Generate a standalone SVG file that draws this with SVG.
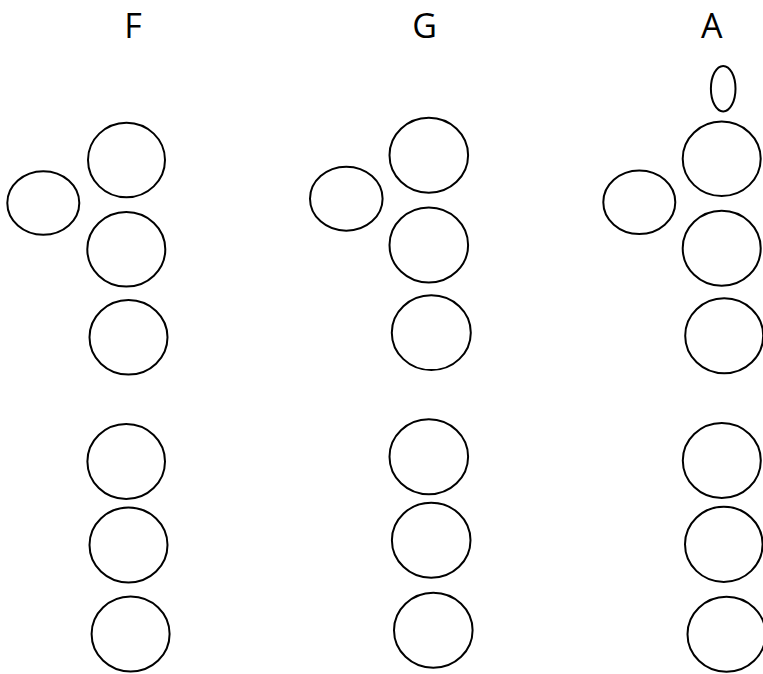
<svg xmlns="http://www.w3.org/2000/svg" width="763" height="674" viewBox="0 0 763 674">
<style>
.h{fill:none;stroke:#000;stroke-width:2}
.t{font-family:"Open Sans","Liberation Sans",sans-serif;font-size:34px;fill:#000;text-anchor:middle}
</style>
<rect width="763" height="674" fill="#fff"/>
<g id="col-F">
<text class="t" x="133" y="38">F</text>
<ellipse id="F-side" class="h" cx="43.3" cy="203" rx="36" ry="31.8"/>
<ellipse id="F-1" class="h" cx="126.5" cy="160" rx="38.5" ry="37.3"/>
<ellipse id="F-2" class="h" cx="126.3" cy="249.3" rx="39" ry="37.3"/>
<ellipse id="F-3" class="h" cx="128.5" cy="337.3" rx="39" ry="37.3"/>
<ellipse id="F-4" class="h" cx="126.2" cy="461.5" rx="38.8" ry="37.5"/>
<ellipse id="F-5" class="h" cx="128.5" cy="545" rx="39" ry="37.5"/>
<ellipse id="F-6" class="h" cx="130.6" cy="634" rx="39" ry="37.5"/>
</g>
<g id="col-G">
<text class="t" x="424.5" y="38">G</text>
<ellipse id="G-side" class="h" cx="346.3" cy="198.7" rx="36.3" ry="32"/>
<ellipse id="G-1" class="h" cx="428.8" cy="155.2" rx="39.3" ry="37.5"/>
<ellipse id="G-2" class="h" cx="428.8" cy="245" rx="39.3" ry="37.6"/>
<ellipse id="G-3" class="h" cx="431.3" cy="332.7" rx="39.5" ry="37.4"/>
<ellipse id="G-4" class="h" cx="428.8" cy="456.8" rx="39.3" ry="37.5"/>
<ellipse id="G-5" class="h" cx="431.2" cy="540.2" rx="39.3" ry="37.5"/>
<ellipse id="G-6" class="h" cx="433.3" cy="630.2" rx="39.3" ry="37.5"/>
</g>
<g id="col-A">
<text class="t" x="711.7" y="38">A</text>
<ellipse id="A-thumb" class="h" cx="723.2" cy="88.7" rx="12.3" ry="22.8"/>
<ellipse id="A-side" class="h" cx="639.3" cy="202.2" rx="36" ry="31.8"/>
<ellipse id="A-1" class="h" cx="721.7" cy="158.8" rx="39" ry="37.2"/>
<ellipse id="A-2" class="h" cx="721.7" cy="248.3" rx="39" ry="37.5"/>
<ellipse id="A-3" class="h" cx="724.2" cy="335.8" rx="39" ry="37.5"/>
<ellipse id="A-4" class="h" cx="721.8" cy="460.5" rx="39" ry="37.6"/>
<ellipse id="A-5" class="h" cx="723.8" cy="544.3" rx="38.8" ry="37.6"/>
<ellipse id="A-6" class="h" cx="726.5" cy="634.2" rx="39" ry="37.5"/>
</g>
<g id="connectors"/>
</svg>
